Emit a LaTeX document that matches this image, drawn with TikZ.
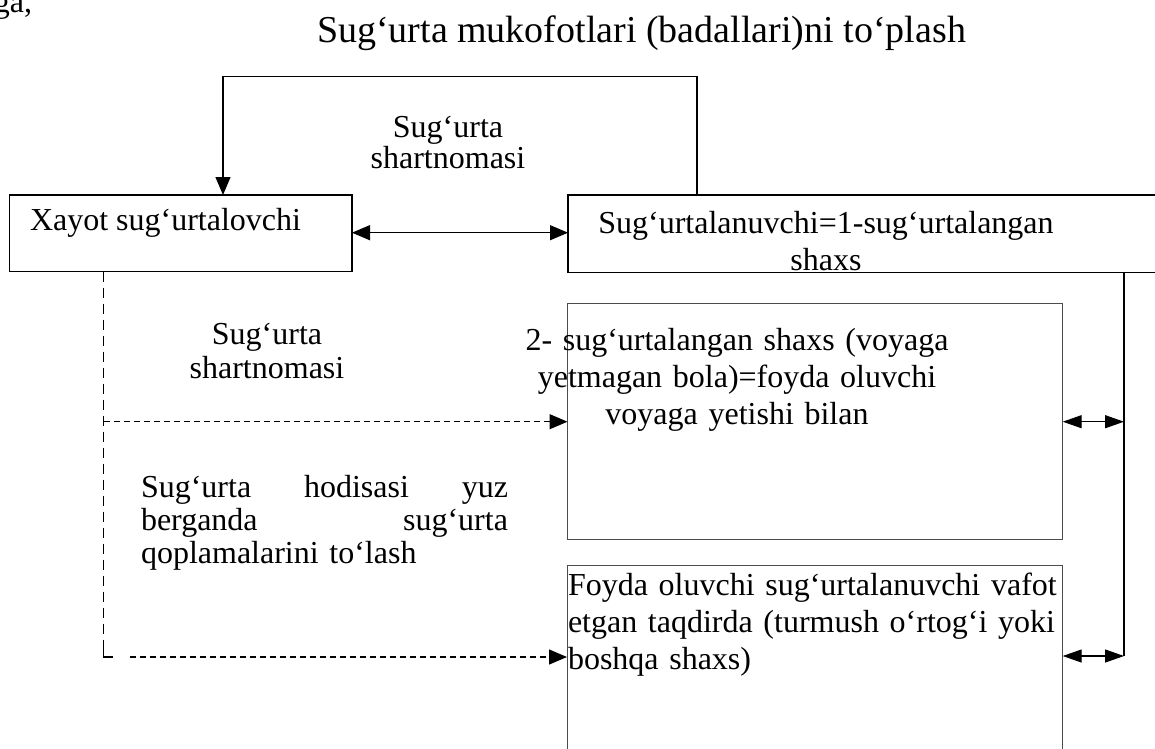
\documentclass[tikz,border=0pt]{standalone}
\usepackage{fontspec}
\setmainfont{Liberation Serif}
\usetikzlibrary{arrows.meta}

\begin{document}
\begin{tikzpicture}[x=1pt, y=-1pt,
  txt/.style={font=\fontsize{32}{37}\selectfont, inner sep=0pt, outer sep=0pt},
  partybox/.style={draw, line width=1.3pt, inner sep=0pt, outer sep=0pt, anchor=north west},
  personbox/.style={draw=black!70, line width=1pt, inner sep=0pt, outer sep=0pt, anchor=north west},
  conn/.style={line width=1.2pt},
  tip/.style={-{Triangle[length=18pt,width=15pt]}},
  twotips/.style={{Triangle[length=18pt,width=15pt]}-{Triangle[length=18pt,width=15pt]}},
  smalltips/.style={{Triangle[length=19pt,width=13pt]}-{Triangle[length=19pt,width=13pt]}},
  vdash/.style={line width=1.5pt, dash pattern=on 10pt off 6pt},
  hdash/.style={line width=1.2pt, dash pattern=on 6pt off 4pt}
]
\useasboundingbox (0,0) rectangle (1155,748);

% headings
\node[txt, anchor=base west] (frag) at (-6,12) {ga,};
\node[txt, font=\fontsize{38}{43}\selectfont, anchor=base west] (title) at (317,42)
  {Sug‘urta mukofotlari (badallari)ni to‘plash};

% boxes
\node[partybox, minimum width=342.5pt, minimum height=76.7pt] (insurer) at (9.5,195) {};
\node[partybox, minimum width=620pt, minimum height=77.7pt] (insured) at (568,195) {};
\node[personbox, minimum width=495.2pt, minimum height=236pt] (child) at (567.5,303.3) {};
\node[personbox, minimum width=495.7pt, minimum height=220pt] (benef) at (567,565) {};

% box texts
\node[txt, anchor=base west] (insurerText) at (30,230) {Xayot sug‘urtalovchi};
\node[txt, anchor=base, text width=520pt, align=center] (insuredText) at (826,233)
  {Sug‘urtalanuvchi=1-sug‘urtalangan\\shaxs};
\node[txt, anchor=base, text width=480pt, align=center] (childText) at (737,350)
  {2- sug‘urtalangan shaxs (voyaga\\yetmagan bola)=foyda oluvchi\\voyaga yetishi bilan};
\node[txt, anchor=base west, text width=500pt, align=left] (benefText) at (568,595)
  {Foyda oluvchi sug‘urtalanuvchi vafot\\etgan taqdirda (turmush o‘rtog‘i yoki\\boshqa shaxs)};

% connector labels
\node[txt, font=\fontsize{32}{31}\selectfont, anchor=base, text width=220pt, align=center] (contractTop) at (448,137)
  {Sug‘urta\\shartnomasi};
\node[txt, font=\fontsize{32}{34}\selectfont, anchor=base, text width=220pt, align=center] (contractLeft) at (267,344)
  {Sug‘urta\\shartnomasi};
\node[txt, font=\fontsize{32}{33}\selectfont, anchor=base west, text width=367pt, align=left] (eventText) at (141,497)
  {Sug‘urta\hfill hodisasi\hfill yuz\\berganda\hfill sug‘urta\\qoplamalarini to‘lash};

% routing points
\coordinate (loopR) at (697,76.7);
\coordinate (loopL) at (223,76.7);
\coordinate (midAB) at (460,232.7);
\coordinate (railC) at (1124,421.7);
\coordinate (railD) at (1124,656);
\coordinate (dashC) at (103.5,421.7);
\coordinate (dashD) at (103.5,657);
\coordinate (cornerTop) at (103.5,650);
\coordinate (stub) at (113,657);
\coordinate (dashStart) at (129.5,657);

% solid connectors
\draw[conn, tip] (insured.north -| loopR) -- (loopR) -- (loopL) -- (insurer.north -| loopL);
\draw[conn, twotips] (insurer.east |- midAB) -- (insured.west |- midAB);
\draw[conn] (insured.south -| railD) -- (railD);
\draw[conn, smalltips] (child.east |- railC) -- (railC);
\draw[conn, smalltips] (benef.east |- railD) -- (railD);

% dashed connectors
\draw[vdash] (insurer.south -| dashD) -- (cornerTop);
\draw[line width=1.5pt] (cornerTop) -- (dashD) -- (stub);
\draw[hdash, tip] (dashC) -- (child.west |- dashC);
\draw[hdash, tip] (dashStart) -- (benef.west |- dashStart);
\end{tikzpicture}
\end{document}
